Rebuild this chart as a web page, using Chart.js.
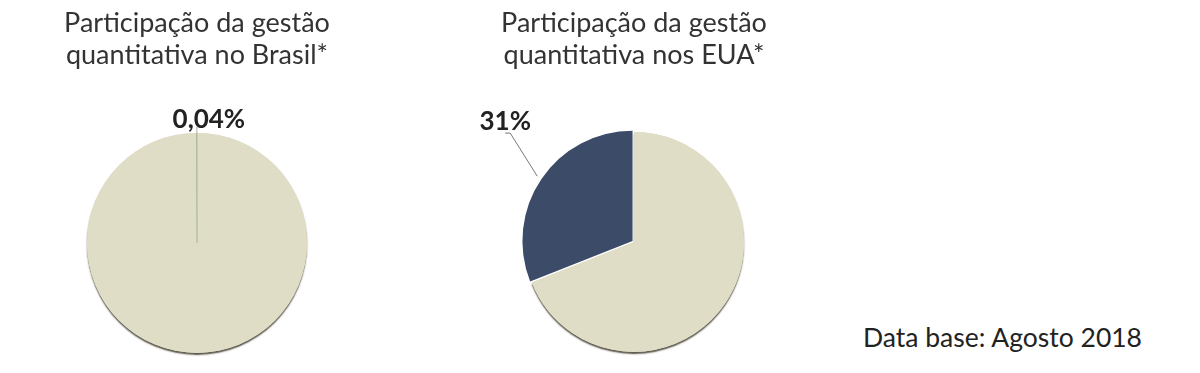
<!DOCTYPE html>
<html>
<head>
<meta charset="utf-8">
<script src="https://cdn.jsdelivr.net/npm/chart.js@4.4.1/dist/chart.umd.min.js"></script>
<style>
  html, body { margin: 0; padding: 0; background: #fff; }
  body { width: 1200px; height: 373px; position: relative; overflow: hidden; font-family: Lato, sans-serif; }
  .box { position: absolute; top: 0; height: 373px; }
  #left { left: 0; width: 394px; }
  #right { left: 434px; width: 400px; }
  #note { position: absolute; left: 863px; top: 321px; font-size: 26.5px; color: #222; white-space: nowrap; }
</style>
</head>
<body>
<div class="box" id="left"><canvas id="chartBR"></canvas></div>
<div class="box" id="right"><canvas id="chartUS"></canvas></div>
<div id="note">Data base: Agosto 2018</div>

<script>
// data
const categories = ['Outros', 'Gestão quantitativa'];
const brasilValues = [99.96, 0.04];
const euaValues = [69, 31];
const brasilLabel = '0,04%';
const euaLabel = '31%';

const beige = '#E0DDC6';
const navy = '#3B4B68';

// shadow only under the big beige slice
const pieShadow = {
  id: 'pieShadow',
  beforeDatasetDraw(chart) {
    const arc = chart.getDatasetMeta(0).data[0];
    if (!arc) return;
    const ctx = chart.ctx;
    ctx.save();
    ctx.shadowColor = 'rgba(50, 45, 30, 0.8)';
    ctx.shadowOffsetY = 2;
    ctx.shadowBlur = 1.5;
    arc.draw(ctx);
    ctx.restore();
  }
};

// percentage label of the small slice, with a leader line
const sliceLabel = {
  id: 'sliceLabel',
  afterDraw(chart, args, opts) {
    const arc = chart.getDatasetMeta(0).data[1];
    if (!arc) return;
    const ctx = chart.ctx;
    const { x, y, startAngle, endAngle, outerRadius } = arc.getProps(['x', 'y', 'startAngle', 'endAngle', 'outerRadius'], true);
    const mid = (startAngle + endAngle) / 2;
    const off = arc.options.offset || 0;
    const ex = x + Math.cos(mid) * (outerRadius + off);
    const ey = y + Math.sin(mid) * (outerRadius + off);
    const [lx, ly, tail] = opts.leader;
    ctx.save();
    ctx.strokeStyle = opts.lineColor;
    ctx.lineWidth = 1;
    ctx.beginPath();
    ctx.moveTo(ex, ey);
    ctx.lineTo(ex + lx, ey + ly);
    ctx.lineTo(ex + lx + tail, ey + ly);
    ctx.stroke();
    ctx.fillStyle = '#222';
    ctx.font = 'bold 26px Lato, sans-serif';
    ctx.textAlign = 'center';
    ctx.textBaseline = 'middle';
    ctx.fillText(opts.text, ex + lx + tail + opts.dx, ey + ly + opts.dy);
    ctx.restore();
  }
};

function pieConfig(values, colors, widths, offsets, title, titleGap, label) {
  return {
    type: 'pie',
    data: {
      labels: categories,
      datasets: [{
        data: values,
        backgroundColor: colors,
        borderColor: colors,
        borderWidth: widths,
        offset: offsets
      }]
    },
    options: {
      responsive: true,
      maintainAspectRatio: false,
      animation: false,
      radius: 110,
      layout: { padding: 0 },
      plugins: {
        legend: { display: false },
        tooltip: { enabled: false },
        title: {
          display: true,
          text: title,
          color: '#333',
          font: { family: 'Lato', size: 27, weight: 'normal', lineHeight: 1.2 },
          padding: { top: 7, bottom: titleGap }
        },
        sliceLabel: label
      }
    },
    plugins: [pieShadow, sliceLabel]
  };
}

new Chart(document.getElementById('chartBR'), pieConfig(
  brasilValues,
  [beige, '#A3B2A0'],
  [0, 0.6],
  [0, 0],
  ['Participação da gestão', 'quantitativa no Brasil*'],
  41,
  { text: brasilLabel, leader: [0, -6, 0], lineColor: '#A3B2A0', dx: 12, dy: -7 }
));

new Chart(document.getElementById('chartUS'), pieConfig(
  euaValues,
  [beige, navy],
  [0, 0],
  [0, 7],
  ['Participação da gestão', 'quantitativa nos EUA*'],
  39,
  { text: euaLabel, leader: [-27, -43, -5], lineColor: '#777', dx: 0, dy: -12 }
));
</script>
</body>
</html>
